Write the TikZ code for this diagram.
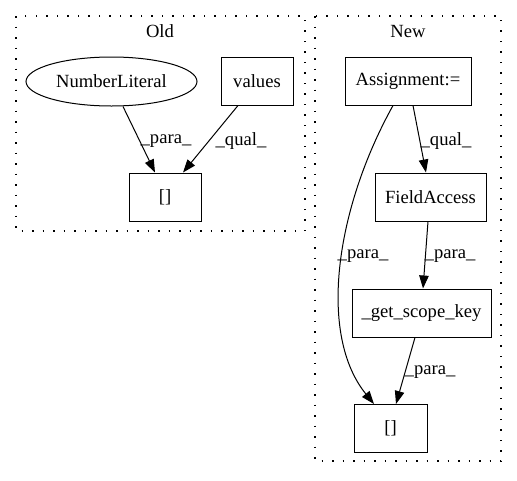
\documentclass[tikz,border=0pt]{standalone}
\usepackage{fontspec}
\setmainfont{Liberation Serif}
\usetikzlibrary{arrows.meta,shapes.geometric}
\tikzset{
  txt/.style={font=\fontsize{18.6pt}{21pt}\selectfont},
  base/.style={txt, inner sep=0pt, line width=1pt},
  box/.style={base, draw, rectangle, minimum height=48pt},
  oval/.style={base, draw, ellipse, minimum width=171pt, minimum height=49pt},
  lbl/.style={txt, inner sep=0pt},
  cluster/.style={draw, line width=1.2pt, dash pattern=on 1.5pt off 9pt},
  edge/.style={line width=1pt, -{Triangle[length=13pt,width=9.5pt]}},
}
\begin{document}
\begin{tikzpicture}[x=1pt,y=-1pt]
\useasboundingbox (0,0) rectangle (517,480);
% clusters
\draw[cluster] (16,16) rectangle (305,231);
\node[lbl] (oldt) at (160,31) {Old};
\draw[cluster] (315,16) rectangle (501,461);
\node[lbl] (newt) at (408,31) {New};
% Old nodes
\node[oval] (num) at (111.5,81.5) {NumberLiteral};
\node[box, minimum width=72pt] (val) at (257,81) {values};
\node[box, minimum width=72pt] (idxo) at (165,197) {[]};
\draw[edge] ([xshift=11.5pt]num.south) -- ([xshift=-10pt]idxo.north);
\draw[edge] ([xshift=-19pt]val.south) -- ([xshift=18pt]idxo.north);
\node[lbl] (l1) at (166,141) {\_para\_};
\node[lbl] (l2) at (241,141) {\_qual\_};
% New nodes
\node[box, minimum width=126pt] (asg) at (408,81) {Assignment:=};
\node[box, minimum width=111pt] (fa) at (430.5,197) {FieldAccess};
\node[box, minimum width=139pt] (gsk) at (421.5,313) {\_get\_scope\_key};
\node[box, minimum width=73pt] (idxn) at (390.5,428.5) {[]};
\draw[edge] ([xshift=5pt]asg.south) -- ([xshift=-4.5pt]fa.north);
\draw[edge] ([xshift=-2.5pt]fa.south) -- ([xshift=1.5pt]gsk.north);
\draw[edge] ([xshift=-6.5pt]gsk.south) -- ([xshift=5.5pt]idxn.north);
\draw[edge] ([xshift=-15pt]asg.south) .. controls (335,210) and (318,335) .. ([xshift=-16.5pt]idxn.north);
\node[lbl] (l3) at (446,141) {\_qual\_};
\node[lbl] (l4) at (450,256) {\_para\_};
\node[lbl] (l5) at (363,256) {\_para\_};
\node[lbl] (l6) at (430,372) {\_para\_};
\end{tikzpicture}
\end{document}
